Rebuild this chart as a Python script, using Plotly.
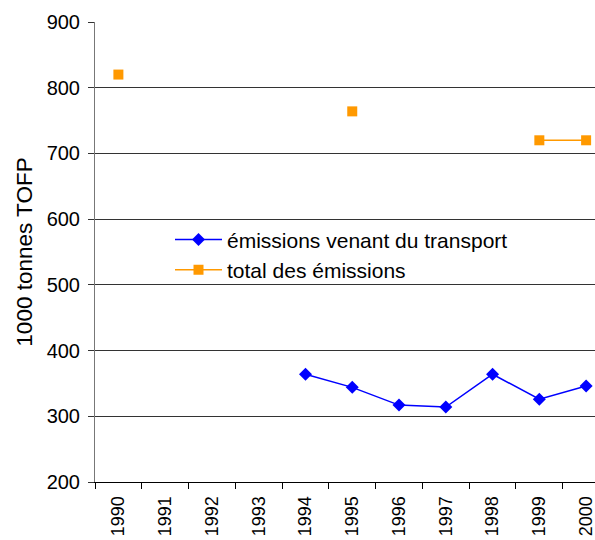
import plotly.graph_objects as go

years = ["1990", "1991", "1992", "1993", "1994", "1995", "1996", "1997", "1998", "1999", "2000"]
transport = [None, None, None, None, 364, 344, 317, 314, 364, 326, 346]
total = [820, None, None, None, None, 764, None, None, None, 720, 720]

fig = go.Figure()
fig.add_trace(go.Scatter(
    x=years, y=transport, name="émissions venant du transport",
    mode="lines+markers", line=dict(color="#0000FF", width=1.5),
    marker=dict(symbol="diamond", size=10, color="#0000FF"),
    connectgaps=False, cliponaxis=False))
fig.add_trace(go.Scatter(
    x=years, y=total, name="total des émissions",
    mode="lines+markers", line=dict(color="#FF9900", width=1.5),
    marker=dict(symbol="square", size=10, color="#FF9900"),
    connectgaps=False, cliponaxis=False))

fig.update_layout(
    width=595, height=540,
    margin=dict(l=95, r=0, t=22, b=58, autoexpand=False),
    paper_bgcolor="white", plot_bgcolor="white",
    font=dict(family="Liberation Sans, Arial, sans-serif", size=20, color="black"),
    showlegend=True,
    legend=dict(x=0.15, y=0.571, xanchor="left", yanchor="top",
                bgcolor="rgba(0,0,0,0)", font=dict(size=21), tracegroupgap=0,
                itemwidth=47),
    xaxis=dict(type="category", range=[-0.5, 10.19], showgrid=False,
               ticks="outside", tickson="boundaries", ticklen=6, tickcolor="black",
               showline=True, linecolor="black", linewidth=1,
               tickangle=-90, tickfont=dict(size=18), automargin=False,
               ticklabelstandoff=6),
    yaxis=dict(range=[200, 900], dtick=100, showgrid=True, gridcolor="#333333",
               gridwidth=1, ticks="outside", ticklen=6, tickcolor="#333333",
               showline=True, linecolor="#777777", linewidth=1, zeroline=False,
               tickfont=dict(size=20), automargin=False, ticklabelstandoff=4,
               title=dict(text="1000 tonnes TOFP", font=dict(size=22.5), standoff=7)),
)

fig.write_html(
    "out.html",
    config={"displayModeBar": False},
    post_script="document.body.style.margin='0';document.body.style.overflow='hidden';",
)
